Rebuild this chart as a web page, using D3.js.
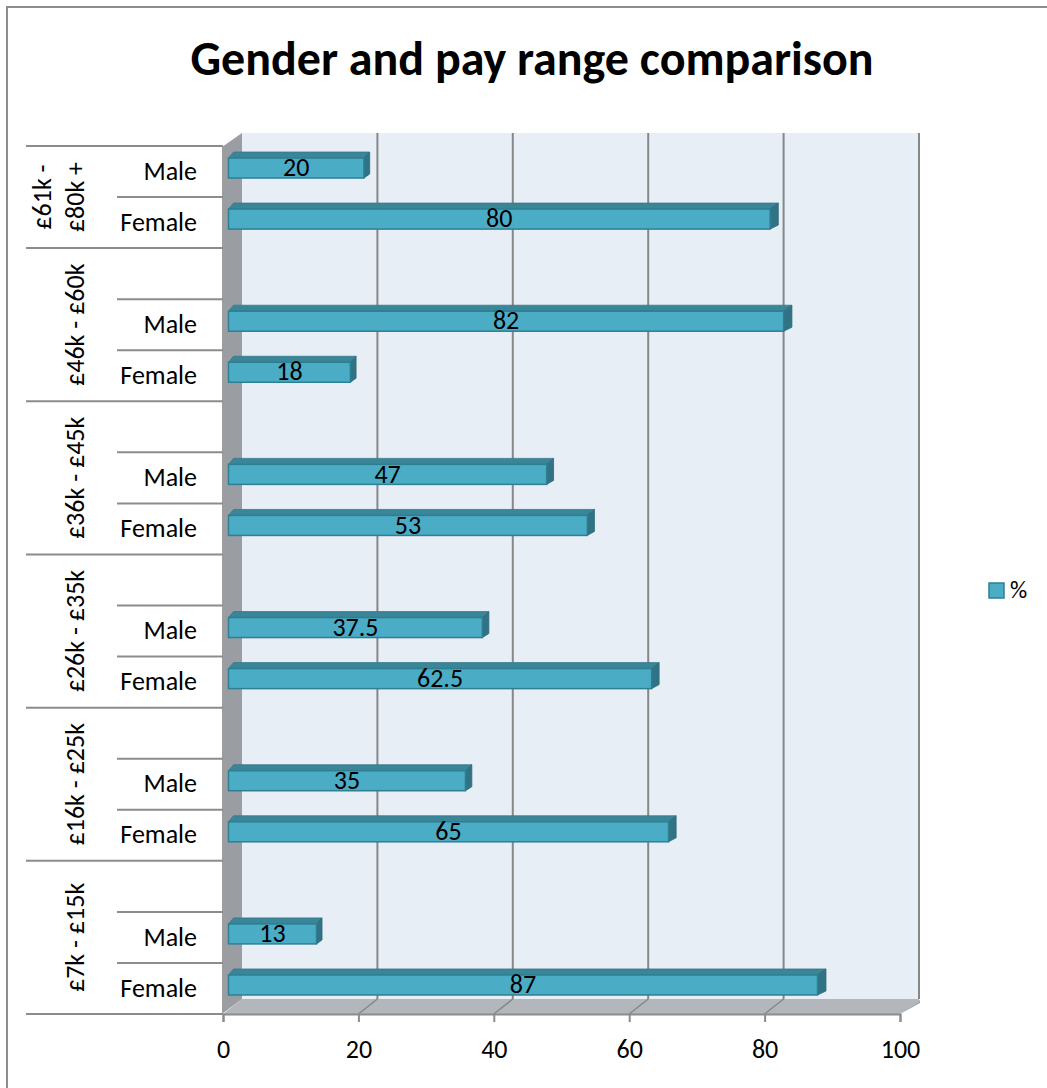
<!DOCTYPE html>
<html>
<head>
<meta charset="utf-8">
<script src="https://cdn.jsdelivr.net/npm/d3@7"></script>
<style>
  html, body { margin: 0; padding: 0; background: #ffffff; }
  svg { display: block; }
  text { font-family: Carlito, Calibri, Lato, "Open Sans", sans-serif; fill: #000; }
</style>
</head>
<body>
<div id="chart"></div>
<script>
// Pay bands, bottom to top as the category axis lists them
const groups = ["£7k - £15k", "£16k - £25k", "£26k - £35k", "£36k - £45k", "£46k - £60k", "£61k - £80k +"];
const maleValues = [13, 35, 37.5, 47, 82, 20];
const femaleValues = [87, 65, 62.5, 53, 18, 80];
const genders = ["Female", "Male"];
const xTicks = [0, 20, 40, 60, 80, 100];
const seriesName = "%";
const title = "Gender and pay range comparison";

const W = 1047, H = 1088;

// Rows listed bottom-up: each band has Female, Male and a spacer row (the top band has no spacer)
const rows = [];
groups.forEach((g, gi) => {
  rows.push({ key: g + "|Female", group: g, label: "Female", value: femaleValues[gi] });
  rows.push({ key: g + "|Male", group: g, label: "Male", value: maleValues[gi] });
  if (gi < groups.length - 1) rows.push({ key: g + "|gap", group: g, label: "", value: null });
});

const svg = d3.select("#chart").append("svg")
  .attr("width", W).attr("height", H);

// chart area border
svg.append("rect")
  .attr("x", 7).attr("y", 7).attr("width", W + 20).attr("height", H + 20)
  .attr("fill", "#fff").attr("stroke", "#8d8d8d").attr("stroke-width", 2);

// title
svg.append("text")
  .attr("x", 532).attr("y", 75)
  .attr("text-anchor", "middle")
  .style("font-size", "48px").style("font-weight", "bold")
  .text(title);

// 3-D box geometry
const frontY = 1014, backBottom = 999, backTop = 133;
const xFront = d3.scaleLinear().domain([0, 100]).range([223, 900]);
const xBack = d3.scaleLinear().domain([0, 100]).range([242, 919]);
const xBar = d3.scaleLinear().domain([0, 100]).range([228.5, 905.5]);
const y = d3.scaleBand().domain(rows.map(r => r.key).reverse()).range([146, frontY]);

// back wall
svg.append("rect")
  .attr("x", xBack(0)).attr("y", backTop)
  .attr("width", xBack(100) - xBack(0)).attr("height", backBottom - backTop)
  .attr("fill", "#e8eef5");

// gridlines on the back wall
svg.append("g").selectAll("line").data(xTicks.filter(t => t > 0)).join("line")
  .attr("x1", d => xBack(d)).attr("x2", d => xBack(d))
  .attr("y1", backTop).attr("y2", backBottom)
  .attr("stroke", "#878787").attr("stroke-width", 2);

// floor
svg.append("polygon")
  .attr("points", [[xFront(0), frontY], [xFront(100), frontY], [xBack(100) + 1, backBottom + 1], [xBack(100) + 1, backBottom + 4], [xFront(100), frontY]]
    .map(p => p.join(",")).join(" "))
  .attr("fill", "#9fa3a7");
svg.append("polygon")
  .attr("points", [[xFront(0), frontY], [xFront(100), frontY], [xBack(100), backBottom + 3], [xBack(100), backBottom], [xBack(0), backBottom]]
    .map(p => p.join(",")).join(" "))
  .attr("fill", "#b3b7bb");
svg.append("g").selectAll("line").data(xTicks.filter(t => t > 0 && t < 100)).join("line")
  .attr("x1", d => xBack(d)).attr("y1", backBottom)
  .attr("x2", d => xFront(d)).attr("y2", frontY)
  .attr("stroke", "#868686").attr("stroke-width", 1.5);

// side wall
svg.append("polygon")
  .attr("points", [[xFront(0) - 1, 147], [xBack(0), backTop], [xBack(0), backBottom], [xFront(0) - 1, frontY]]
    .map(p => p.join(",")).join(" "))
  .attr("fill", "#9a9ea2");

// category axis rule lines
const groupEdges = new Set();
groups.forEach(g => {
  const ks = rows.filter(r => r.group === g).map(r => r.key);
  const ys = ks.map(k => y(k));
  groupEdges.add(Math.min(...ys));
  groupEdges.add(Math.max(...ys) + y.bandwidth());
});
const rowEdges = rows.map(r => y(r.key)).concat([y(rows[0].key) + y.bandwidth()]);
const axisG = svg.append("g");
rowEdges.forEach(e => {
  const isGroup = [...groupEdges].some(v => Math.abs(v - e) < 0.5);
  axisG.append("line")
    .attr("x1", isGroup ? 26 : 117).attr("x2", xFront(0))
    .attr("y1", e).attr("y2", e)
    .attr("stroke", "#8c8c8c").attr("stroke-width", 2);
});

// value axis along the front edge
const xAxis = svg.append("g").attr("transform", `translate(0,${frontY})`)
  .call(d3.axisBottom(xFront).tickValues(xTicks).tickSize(8).tickPadding(18).tickFormat(d3.format("d")));
xAxis.select(".domain").attr("stroke", "#8c8c8c").attr("stroke-width", 2);
xAxis.selectAll(".tick line").attr("stroke", "#8c8c8c").attr("stroke-width", 2);
xAxis.selectAll(".tick text").style("font-size", "26px")
  .style("font-family", "Carlito, Calibri, Lato, sans-serif").attr("fill", "#000");

// bars (front face, top face, end face)
const barH = 20, depthY = 6;
const barRows = rows.filter(r => r.value !== null);
const barG = svg.append("g");
barRows.forEach(r => {
  const cy = y(r.key) + y.bandwidth() / 2;
  const top = cy - 13.5;
  const x0 = xBar(0), x1 = xBar(r.value);
  const dxL = 5, dxR = 5 + 0.04 * r.value;
  barG.append("polygon")
    .attr("points", [[x0, top], [x1, top], [x1 + dxR, top - depthY], [x0 + dxL, top - depthY]].map(p => p.join(",")).join(" "))
    .attr("fill", "#3a8598").attr("stroke", "#337a8c").attr("stroke-width", 0.8);
  barG.append("polygon")
    .attr("points", [[x1, top], [x1 + dxR, top - depthY], [x1 + dxR, top + barH - 4], [x1, top + barH]].map(p => p.join(",")).join(" "))
    .attr("fill", "#2f7384").attr("stroke", "#2c6c7c").attr("stroke-width", 0.8);
  barG.append("rect")
    .attr("x", x0).attr("y", top).attr("width", x1 - x0).attr("height", barH)
    .attr("fill", "#4bacc6").attr("stroke", "#2f7f93").attr("stroke-width", 1.5);
  barG.append("text")
    .attr("x", (x0 + x1) / 2).attr("y", top + barH / 2 + 2)
    .attr("text-anchor", "middle").attr("dominant-baseline", "middle")
    .style("font-size", "26px")
    .text(r.value);
});

// gender labels
svg.append("g").selectAll("text").data(barRows).join("text")
  .attr("x", 197).attr("y", d => y(d.key) + y.bandwidth() / 2 + 2)
  .attr("text-anchor", "end").attr("dominant-baseline", "middle")
  .style("font-size", "26px")
  .text(d => d.label);

// pay band labels, rotated
groups.forEach((g, gi) => {
  const ks = rows.filter(r => r.group === g).map(r => y(r.key));
  const cy = (Math.min(...ks) + Math.max(...ks) + y.bandwidth()) / 2;
  const lines = gi === groups.length - 1 ? ["£61k -", "£80k +"] : [g];
  lines.forEach((ln, li) => {
    const cx = lines.length === 1 ? 78 : (li === 0 ? 45 : 78);
    svg.append("text")
      .attr("transform", `translate(${cx},${cy}) rotate(-90)`)
      .attr("text-anchor", "middle").attr("dominant-baseline", "middle")
      .style("font-size", "26px")
      .text(ln);
  });
});

// legend
svg.append("rect")
  .attr("x", 989).attr("y", 583).attr("width", 15).attr("height", 15)
  .attr("fill", "#4bacc6").attr("stroke", "#2f7f93").attr("stroke-width", 1.5);
svg.append("text")
  .attr("x", 1010).attr("y", 592)
  .attr("dominant-baseline", "middle")
  .style("font-size", "24px")
  .text(seriesName);
</script>
</body>
</html>
